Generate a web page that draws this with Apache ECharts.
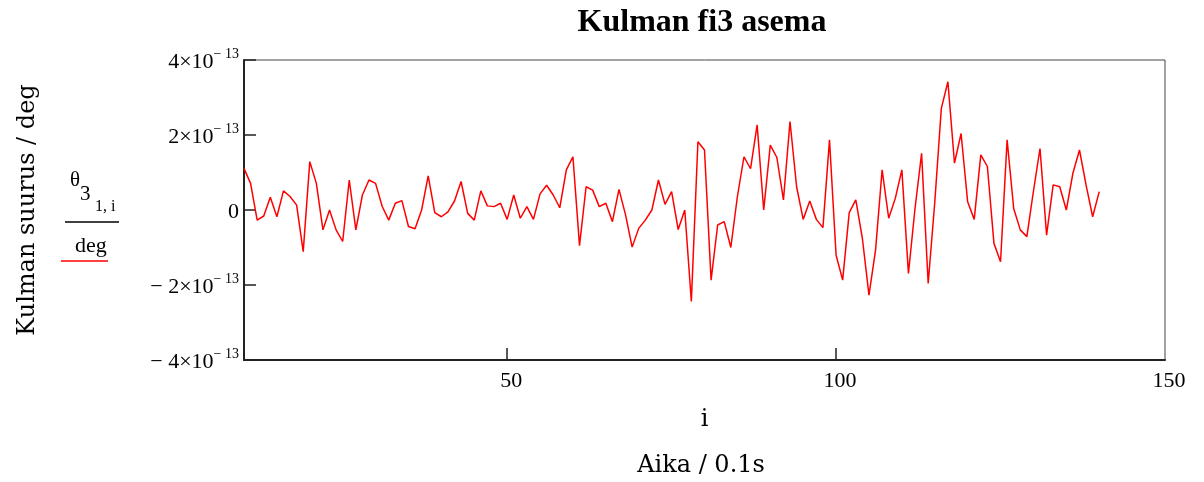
<!DOCTYPE html>
<html>
<head>
  <meta charset="utf-8">
  <title>Kulman fi3 asema</title>
  <script src="https://cdn.jsdelivr.net/npm/echarts@6/dist/echarts.min.js"></script>
  <style>
    html, body { margin: 0; padding: 0; background: #fff; }
    #main { width: 1204px; height: 482px; }
  </style>
</head>
<body>
  <div id="main"></div>
  <script>
    // sample index i of the first point, then theta3 values in units of 1e-13 deg
    var firstIndex = 10;
    var theta3 = [
      1.11, 0.71, -0.27, -0.16, 0.34, -0.18, 0.51, 0.36, 0.13, -1.11,
      1.29, 0.71, -0.53, 0, -0.53, -0.84, 0.8, -0.53, 0.4, 0.8,
      0.71, 0.1, -0.27, 0.18, 0.25, -0.44, -0.5, 0, 0.91, -0.07,
      -0.18, -0.05, 0.24, 0.76, -0.09, -0.27, 0.51, 0.11, 0.09, 0.18,
      -0.25, 0.4, -0.22, 0.09, -0.25, 0.43, 0.66, 0.4, 0.06, 1.07,
      1.42, -0.95, 0.62, 0.53, 0.09, 0.18, -0.31, 0.55, -0.13, -0.99,
      -0.49, -0.27, 0, 0.8, 0.15, 0.49, -0.52, 0, -2.44, 1.82,
      1.6, -1.87, -0.4, -0.31, -1.0, 0.36, 1.42, 1.1, 2.27, 0,
      1.73, 1.4, 0.27, 2.36, 0.62, -0.25, 0.24, -0.25, -0.47, 1.87,
      -1.2, -1.87, -0.07, 0.27, -0.76, -2.27, -1.07, 1.07, -0.22, 0.31,
      1.07, -1.69, 0.04, 1.51, -1.96, 0.2, 2.71, 3.42, 1.25, 2.04,
      0.22, -0.25, 1.47, 1.16, -0.89, -1.38, 1.87, 0.04, -0.53, -0.71,
      0.5, 1.64, -0.67, 0.67, 0.62, 0, 0.98, 1.6, 0.67, -0.18,
      0.49
    ];

    // axis ticks
    var xTicks = [50, 100, 150];
    var yTicks = [-4, -2, 0, 2, 4];
    var yMantissa = ['− 4×10', '− 2×10', '0', '2×10', '4×10'];
    var yExponent = '− 13';

    var serif = '"Liberation Serif", "DejaVu Serif", serif';
    var slab = '"DejaVu Serif", serif';

    var points = theta3.map(function (v, k) {
      return [firstIndex + k, v];
    });

    var chart = echarts.init(document.getElementById('main'));

    var option = {
      animation: false,
      backgroundColor: '#fff',
      grid: {
        left: 244,
        right: 39,
        top: 60,
        bottom: 122,
        outerBoundsMode: 'none',
        containLabel: false,
        show: true,
        borderColor: '#444',
        borderWidth: 1
      },
      xAxis: {
        type: 'value',
        min: 10,
        max: 150,
        name: 'i',
        nameLocation: 'middle',
        nameGap: 48,
        nameTextStyle: { fontFamily: slab, fontSize: 24, color: '#000' },
        axisLine: { show: true, onZero: false, lineStyle: { color: '#222', width: 2 } },
        axisTick: {
          show: true,
          inside: true,
          length: 12,
          customValues: [50, 100],
          lineStyle: { color: '#222', width: 1.5 }
        },
        axisLabel: {
          customValues: xTicks,
          margin: 10,
          padding: [0, 0, 0, 8],
          fontFamily: serif,
          fontSize: 22,
          color: '#000'
        },
        splitLine: { show: false }
      },
      yAxis: {
        type: 'value',
        min: -4,
        max: 4,
        interval: 2,
        name: 'Kulman suurus / deg',
        nameLocation: 'middle',
        nameGap: 204,
        nameRotate: 90,
        nameTextStyle: { fontFamily: slab, fontSize: 24, color: '#000' },
        axisLine: { show: true, onZero: false, lineStyle: { color: '#222', width: 2 } },
        axisTick: { show: true, inside: true, length: 12, lineStyle: { color: '#222', width: 1.5 } },
        axisLabel: {
          margin: 5,
          formatter: function (value) {
            var k = yTicks.indexOf(value);
            if (k < 0) return '';
            if (value === 0) return '{n|' + yMantissa[k] + '}';
            return '{n|' + yMantissa[k] + '}{e|' + yExponent + '}';
          },
          rich: {
            n: { fontFamily: serif, fontSize: 22, color: '#000', lineHeight: 26, verticalAlign: 'bottom' },
            e: { fontFamily: serif, fontSize: 14, color: '#000', lineHeight: 14, verticalAlign: 'top' }
          }
        },
        splitLine: { show: false }
      },
      series: [{
        name: 'theta3',
        type: 'line',
        data: points,
        showSymbol: false,
        symbol: 'none',
        lineStyle: { color: '#ff0000', width: 1.5 }
      }],
      graphic: [
        // title
        {
          type: 'text', x: 702, y: 7,
          style: { text: 'Kulman fi3 asema', font: 'bold 32px ' + serif, fill: '#000', align: 'center' }
        },
        // second x-axis caption
        {
          type: 'text', x: 701, y: 454,
          style: { text: 'Aika / 0.1s', font: '24px ' + slab, fill: '#000', align: 'center' }
        },
        // legend: theta 3 (1,i) over deg, with red line sample
        {
          type: 'text', left: 70, top: 170,
          style: { text: 'θ', font: '21px ' + serif, fill: '#000' }
        },
        {
          type: 'text', left: 80, top: 184,
          style: { text: '3', font: '21px ' + serif, fill: '#000' }
        },
        {
          type: 'text', left: 95, top: 199,
          style: { text: '1, i', font: '16px ' + serif, fill: '#000' }
        },
        {
          type: 'line',
          shape: { x1: 65, y1: 222, x2: 119, y2: 222 },
          style: { stroke: '#000', lineWidth: 1.5 }
        },
        {
          type: 'text', left: 75, top: 235,
          style: { text: 'deg', font: '22px ' + serif, fill: '#000' }
        },
        {
          type: 'line',
          shape: { x1: 61, y1: 261, x2: 108, y2: 261 },
          style: { stroke: '#ff0000', lineWidth: 1.5 }
        }
      ]
    };

    chart.setOption(option);
  </script>
</body>
</html>
